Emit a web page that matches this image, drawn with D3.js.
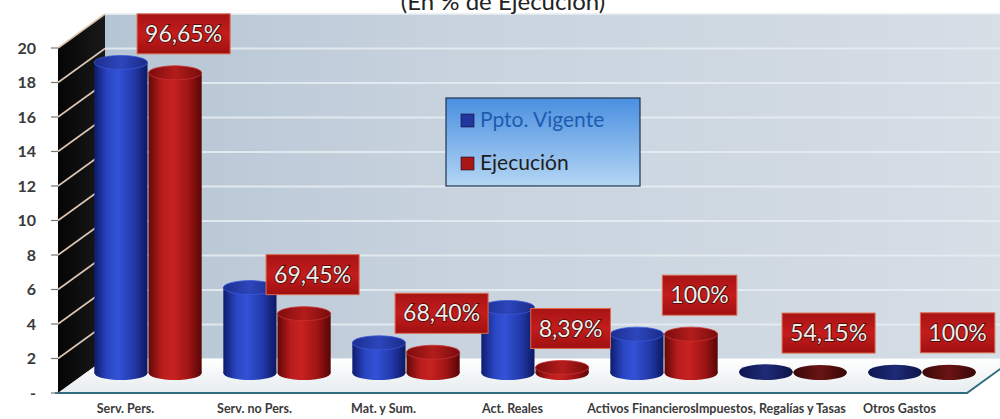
<!DOCTYPE html>
<html><head><meta charset="utf-8">
<script src="https://cdn.jsdelivr.net/npm/d3@7"></script>
<style>html,body{margin:0;padding:0;background:#fff;}svg{display:block;}</style>
</head><body>
<svg id="c" width="1000" height="419"></svg>
<script>
const categories = ["Serv. Pers.", "Serv. no Pers.", "Mat. y Sum.", "Act. Reales", "Activos Financieros", "Impuestos, Regalías y Tasas", "Otros Gastos"];
const pptoVigente = [18.0, 4.95, 1.75, 3.8, 2.25, 0.10, 0.07];
const ejecucion   = [17.4, 3.44, 1.20, 0.32, 2.25, 0.054, 0.07];
const pctLabels   = ["96,65%", "69,45%", "68,40%", "8,39%", "100%", "54,15%", "100%"];
const yTicks      = [0, 2, 4, 6, 8, 10, 12, 14, 16, 18, 20];
const seriesNames = ["Ppto. Vigente", "Ejecución"];
const title = "(En % de Ejecución)";

const svg = d3.select("#c");
const defs = svg.append("defs");
const FONT = "Lato, 'Open Sans', sans-serif";

// scales
const DX = 47, DY = -34;           // depth offset of back wall
const yFront = d3.scaleLinear().domain([0, 20]).range([393, 48]);
const yBar = d3.scaleLinear().domain([0, 20]).range([373, 28]);
const x0 = d3.scaleBand().domain(categories).range([84, 987]).paddingInner(0.16).paddingOuter(0.08);
const x1 = d3.scaleBand().domain(seriesNames).range([0, x0.bandwidth()]).padding(0);

// gradients
function lin(id, stops, x2 = "100%", y2 = "0%") {
  const g = defs.append("linearGradient").attr("id", id).attr("x1", "0%").attr("y1", "0%").attr("x2", x2).attr("y2", y2);
  stops.forEach(s => g.append("stop").attr("offset", s[0]).attr("stop-color", s[1]));
}
lin("wall", [["0%", "#b6c5d4"], ["40%", "#c8d3de"], ["100%", "#d6dee6"]]);
lin("side", [["0%", "#050505"], ["100%", "#1a1a1a"]]);
lin("floor", [["0%", "#ffffff"], ["100%", "#e6ecef"]], "0%", "100%");
lin("blueSide", [["0%", "#0e1c6e"], ["25%", "#2a46c4"], ["45%", "#3352d6"], ["75%", "#2238a8"], ["100%", "#0c1860"]]);
lin("redSide", [["0%", "#620808"], ["25%", "#b81c1c"], ["45%", "#c82222"], ["75%", "#a01414"], ["100%", "#560606"]]);
lin("blueTop", [["0%", "#1c2e90"], ["50%", "#2c46bc"], ["100%", "#1a2a88"]]);
lin("redTop", [["0%", "#7c0c0c"], ["50%", "#b41c1c"], ["100%", "#780c0c"]]);
lin("blueDisc", [["0%", "#0e1650"], ["50%", "#1e2c78"], ["100%", "#0e1448"]]);
lin("redDisc", [["0%", "#3c0808"], ["50%", "#6a1414"], ["100%", "#380606"]]);
lin("lbl", [["0%", "#a81414"], ["50%", "#c41c1c"], ["100%", "#a01010"]], "0%", "100%");
lin("legend", [["0%", "#4a8fe0"], ["100%", "#b4d6f4"]], "0%", "100%");

// back wall
const wallTop = yFront(20) + DY, wallBot = yFront(0) + DY;
const xL = 58, xB = xL + DX;
svg.append("rect").attr("x", xB).attr("y", wallTop).attr("width", 1000 - xB).attr("height", wallBot - wallTop).attr("fill", "url(#wall)");
svg.append("g").selectAll("line").data(yTicks).join("line")
  .attr("x1", xB).attr("x2", 1000)
  .attr("y1", d => yFront(d) + DY).attr("y2", d => yFront(d) + DY)
  .attr("stroke", "#e8eef3").attr("stroke-width", 2).attr("opacity", 0.85);

// side wall
svg.append("polygon")
  .attr("points", [[xL, yFront(20)], [xB, wallTop], [xB, wallBot], [xL, yFront(0)]].map(p => p.join(",")).join(" "))
  .attr("fill", "url(#side)");
svg.append("g").selectAll("line").data(yTicks.filter(d => d > 0)).join("line")
  .attr("x1", xL).attr("y1", d => yFront(d))
  .attr("x2", xB).attr("y2", d => yFront(d) + DY)
  .attr("stroke", "#dcc6b4").attr("stroke-width", 1.6);

// floor
const fr = 967;
svg.append("polygon")
  .attr("points", [[xL, yFront(0)], [fr, yFront(0)], [fr + DX, wallBot], [xB, wallBot]].map(p => p.join(",")).join(" "))
  .attr("fill", "url(#floor)");
svg.append("polyline")
  .attr("points", [[xL - 3, yFront(0)], [fr, yFront(0)], [fr + DX, wallBot]].map(p => p.join(",")).join(" "))
  .attr("fill", "none").attr("stroke", "#2f6c80").attr("stroke-width", 2);

// y axis ticks and labels
const yAx = svg.append("g");
yAx.selectAll("line").data(yTicks).join("line")
  .attr("x1", 51).attr("x2", xL).attr("y1", d => yFront(d)).attr("y2", d => yFront(d))
  .attr("stroke", "#777").attr("stroke-width", 1.2);
yAx.selectAll("text").data(yTicks).join("text")
  .attr("x", 36).attr("y", d => yFront(d)).attr("dy", "0.35em")
  .attr("text-anchor", "end").attr("font-family", FONT).attr("font-size", 16).attr("font-weight", 700)
  .attr("fill", "#3a3a3a").text(d => d === 0 ? "-" : d);

// cylinders
const RY = 7;
const bars = [];
categories.forEach((c, i) => {
  bars.push({ c, s: 0, v: pptoVigente[i] });
  bars.push({ c, s: 1, v: ejecucion[i] });
});
const bg = svg.append("g");
bars.forEach(b => {
  const x = x0(b.c) + x1(seriesNames[b.s]);
  const w = x1.bandwidth() - 1;
  const cx = x + w / 2, rx = w / 2;
  const top = yBar(b.v), base = yBar(0);
  const flat = (base - top) < 3;
  const side = b.s === 0 ? "url(#blueSide)" : "url(#redSide)";
  const topF = flat ? (b.s === 0 ? "url(#blueDisc)" : "url(#redDisc)") : (b.s === 0 ? "url(#blueTop)" : "url(#redTop)");
  const g = bg.append("g");
  g.append("ellipse").attr("cx", cx).attr("cy", base).attr("rx", rx).attr("ry", RY).attr("fill", flat ? topF : side);
  g.append("rect").attr("x", cx - rx).attr("y", top).attr("width", w).attr("height", Math.max(0, base - top)).attr("fill", flat ? topF : side);
  g.append("ellipse").attr("cx", cx).attr("cy", top).attr("rx", rx).attr("ry", RY).attr("fill", topF)
    .attr("stroke", flat ? "none" : (b.s === 0 ? "#3a58d8" : "#c83030")).attr("stroke-width", 0.8);
});

// data labels
const lg = svg.append("g");
categories.forEach((c, i) => {
  const cx = x0(c) + x1(seriesNames[1]) + x1.bandwidth() / 2 + 8;
  const cy = yBar(ejecucion[i]) - 39;
  const t = lg.append("text").attr("x", cx).attr("y", cy).attr("dy", "0.35em")
    .attr("text-anchor", "middle").attr("font-family", FONT).attr("font-size", 23)
    .attr("fill", "#f6ebe6").attr("stroke", "#3c0c0c").attr("stroke-width", 1.6)
    .attr("paint-order", "stroke").text(pctLabels[i]);
  const bb = t.node().getBBox();
  lg.insert("rect", () => t.node())
    .attr("x", bb.x - 8).attr("y", cy - 20).attr("width", bb.width + 16).attr("height", 40)
    .attr("fill", "url(#lbl)").attr("stroke", "#dc6a4c").attr("stroke-width", 1);
});

// x labels
svg.append("g").selectAll("text").data(categories).join("text")
  .attr("x", d => x0(d) + x0.bandwidth() / 2 - 23).attr("y", 413)
  .attr("text-anchor", "middle").attr("font-family", FONT).attr("font-size", 12.5).attr("font-weight", 700)
  .attr("fill", "#3a3a3a").text(d => d);

// legend
const leg = svg.append("g");
leg.append("rect").attr("x", 446).attr("y", 98).attr("width", 194).attr("height", 88)
  .attr("fill", "url(#legend)").attr("stroke", "#1e3450").attr("stroke-width", 1.2);
const legColors = ["#23369e", "#a81616"];
const legText = ["#1d5cb0", "#1e1e1e"];
seriesNames.forEach((s, i) => {
  const yy = 120 + i * 43;
  leg.append("rect").attr("x", 461).attr("y", yy - 6).attr("width", 13).attr("height", 13)
    .attr("fill", legColors[i]).attr("stroke", "#0c0c30").attr("stroke-width", 0.6);
  leg.append("text").attr("x", 480).attr("y", yy).attr("dy", "0.35em")
    .attr("font-family", FONT).attr("font-size", 21).attr("fill", legText[i]).text(s);
});

// title (top cut off as in the original)
svg.append("text").attr("x", 503).attr("y", 10).attr("text-anchor", "middle")
  .attr("font-family", FONT).attr("font-size", 24).attr("fill", "#222").text(title);
</script>
</body></html>
